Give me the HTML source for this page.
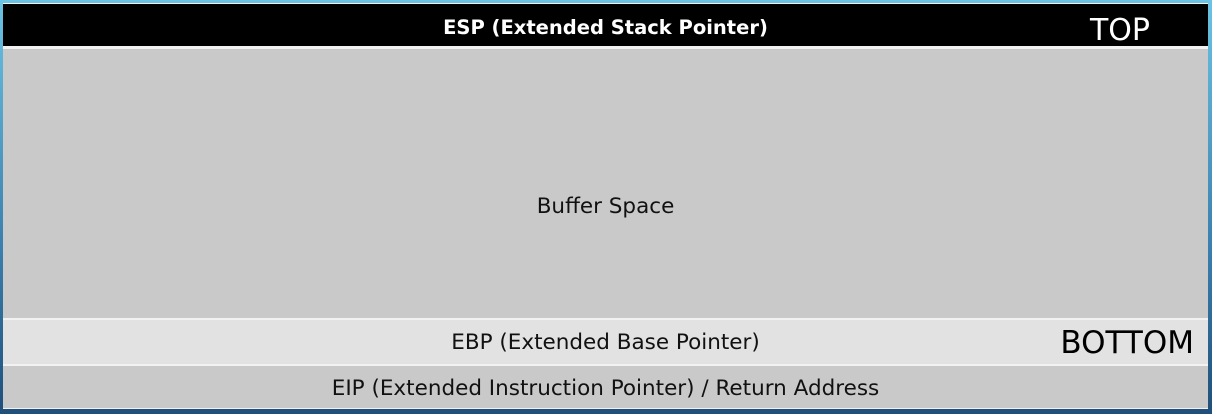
<!DOCTYPE html>
<html><head><style>
body{margin:0;width:1212px;height:414px;overflow:hidden;background:linear-gradient(#6cc3e3,#3a7fae 60%,#1f4f7a);position:relative;font-family:"DejaVu Sans","Liberation Sans",sans-serif;}
.inner{position:absolute;left:3px;top:3px;width:1205px;height:406px;background:#f2f2f2;}
.b{position:absolute;left:0;width:1205px;text-align:center;color:#111;font-size:21.5px;}
</style></head><body>
<div class="inner">
<div class="b" style="top:1px;height:42px;background:#000;color:#fff;font-weight:bold;font-size:19.5px;line-height:47px;">ESP (Extended Stack Pointer)</div>
<div style="position:absolute;right:58px;top:10px;color:#fff;font-size:30px;line-height:36px;">TOP</div>
<div class="b" style="top:46px;height:269px;background:#c9c9c9;line-height:269px;"><span style="position:relative;top:23px;">Buffer Space</span></div>
<div class="b" style="top:317px;height:44px;background:#e2e2e2;line-height:46px;">EBP (Extended Base Pointer)</div>
<div style="position:absolute;right:14px;top:321px;color:#000;font-size:31px;line-height:38px;">BOTTOM</div>
<div class="b" style="top:363px;height:42px;background:#c9c9c9;line-height:46px;">EIP (Extended Instruction Pointer) / Return Address</div>
</div>
</body></html>
